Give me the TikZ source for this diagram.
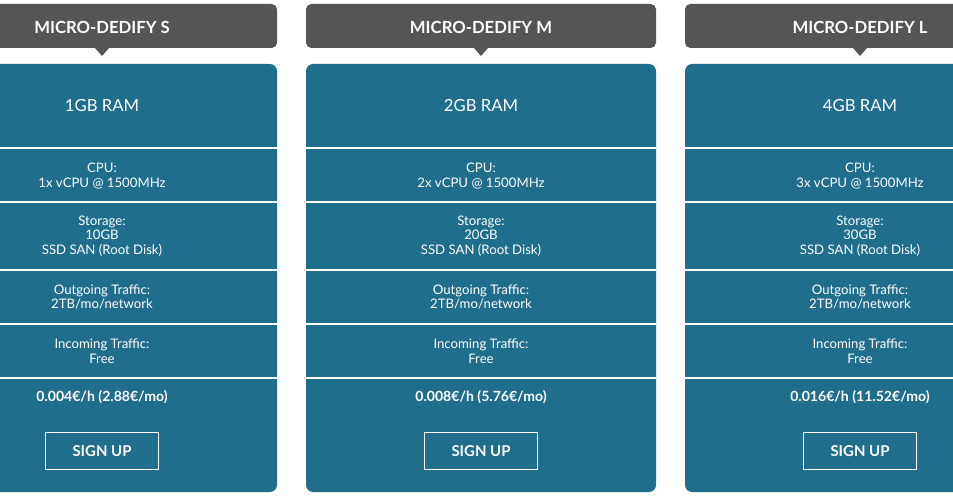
\documentclass[tikz,border=0pt]{standalone}
\usepackage{fontspec}
\setmainfont{Lato}
\usetikzlibrary{positioning}
\definecolor{plangrey}{HTML}{555555}
\definecolor{planblue}{HTML}{1E6E8C}

\begin{document}
\begin{tikzpicture}[x=0.02cm, y=-0.02cm,
head_style/.style={fill=plangrey, rounded corners=3pt, draw=none},
body_style/.style={fill=planblue, rounded corners=4pt, draw=none},
row_text/.style={text=white, font=\fontsize{7.5}{8.2}\selectfont, align=center},
ram_text/.style={text=white, font=\fontsize{9.5}{11}\selectfont},
head_text/.style={text=white, font=\fontsize{9.5}{11}\selectfont\bfseries},
price_text/.style={text=white, font=\fontsize{8}{9}\selectfont\bfseries},
btn_style/.style={draw=white, thick, text=white, minimum width=113*0.02cm, minimum height=37*0.02cm, font=\fontsize{8.5}{9}\selectfont\bfseries}]
\useasboundingbox (0,0) rectangle (953,500);
\fill[white] (0,0) rectangle (953,500);
\clip (0,0) rectangle (953,500);

\foreach \cx/\size/\ram/\cpu/\disk/\price in {
  102/S/1GB/1x/10GB/{0.004€/h (2.88€/mo)},
  481/M/2GB/2x/20GB/{0.008€/h (5.76€/mo)},
  860/L/4GB/3x/30GB/{0.016€/h (11.52€/mo)}}{
  % header with pointer
  \fill[head_style] (\cx-175,4) rectangle (\cx+175,48);
  \fill[plangrey] (\cx-7,48) -- (\cx+7,48) -- (\cx,56) -- cycle;
  \node[head_text] (h\size) at (\cx,27) {MICRO-DEDIFY \size};
  % body
  \fill[body_style] (\cx-175,64) rectangle (\cx+175,492);
  \foreach \ly in {148,202,270,324,378}
    \draw[white, line width=0.6pt] (\cx-175,\ly) -- (\cx+175,\ly);
  \node[ram_text] (ram\size) at (\cx,106) {\ram{} RAM};
  \node[row_text] (cpu\size) at (\cx,176) {CPU:\\\cpu{} vCPU @ 1500MHz};
  \node[row_text] (disk\size) at (\cx,236) {Storage:\\\disk\\SSD SAN (Root Disk)};
  \node[row_text] (out\size) at (\cx,297) {Outgoing Traffic:\\2TB/mo/network};
  \node[row_text] (in\size) at (\cx,351) {Incoming Traffic:\\Free};
  \node[price_text] (price\size) at (\cx,397) {\price};
  \node[btn_style] (btn\size) at (\cx,451) {SIGN UP};
}
\end{tikzpicture}
\end{document}
